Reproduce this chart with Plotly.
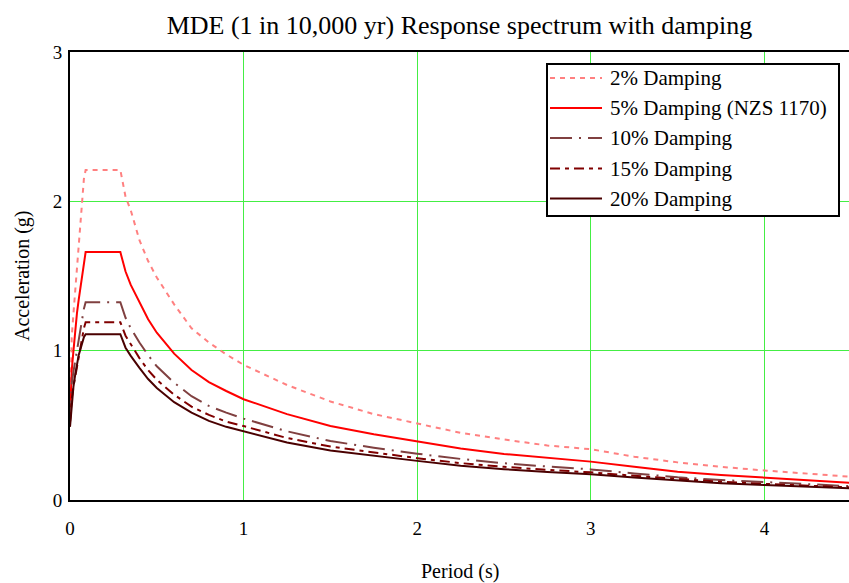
import plotly.graph_objects as go

# ---- data ----
period = [0, 0.01, 0.02, 0.03, 0.04, 0.05, 0.06, 0.07, 0.08, 0.09,
          0.29, 0.32, 0.35, 0.4, 0.45, 0.5, 0.6, 0.7, 0.8, 0.9, 1.0,
          1.25, 1.5, 1.75, 2.0, 2.25, 2.5, 2.75, 3.0, 3.25, 3.5, 3.75,
          4.0, 4.25, 4.5]

damp_2 = [0.52, 1.09, 1.25, 1.40, 1.55, 1.70, 1.90, 2.03, 2.15, 2.21,
          2.21, 2.03, 1.94, 1.74, 1.60, 1.49, 1.31, 1.15, 1.055, 0.975, 0.905,
          0.77, 0.66, 0.575, 0.51, 0.45, 0.405, 0.365, 0.34, 0.29, 0.252, 0.222,
          0.198, 0.175, 0.155]
damp_5 = [0.55, 0.87, 1.00, 1.14, 1.25, 1.34, 1.42, 1.50, 1.58, 1.66,
          1.66, 1.53, 1.44, 1.32, 1.21, 1.12, 0.98, 0.87, 0.79, 0.73, 0.675,
          0.575, 0.495, 0.44, 0.39, 0.345, 0.308, 0.28, 0.257, 0.223, 0.19, 0.168,
          0.15, 0.132, 0.115]
damp_10 = [0.52, 0.78, 0.86, 0.93, 1.00, 1.08, 1.15, 1.22, 1.28, 1.325,
           1.325, 1.22, 1.15, 1.055, 0.97, 0.895, 0.785, 0.695, 0.63, 0.585, 0.545,
           0.46, 0.395, 0.35, 0.31, 0.275, 0.246, 0.224, 0.205, 0.178, 0.152, 0.134,
           0.12, 0.105, 0.092]
damp_15 = [0.52, 0.68, 0.76, 0.83, 0.90, 0.97, 1.03, 1.09, 1.15, 1.19,
           1.19, 1.10, 1.04, 0.95, 0.87, 0.805, 0.705, 0.625, 0.57, 0.525, 0.495,
           0.415, 0.358, 0.318, 0.28, 0.247, 0.222, 0.202, 0.185, 0.162, 0.14, 0.122,
           0.108, 0.095, 0.084]
damp_20 = [0.49, 0.64, 0.76, 0.84, 0.92, 0.97, 1.01, 1.05, 1.09, 1.11,
           1.11, 1.02, 0.965, 0.885, 0.81, 0.75, 0.655, 0.585, 0.53, 0.49, 0.46,
           0.385, 0.332, 0.295, 0.262, 0.23, 0.206, 0.188, 0.172, 0.15, 0.13, 0.113,
           0.1, 0.088, 0.078]

series_names = ["2% Damping", "5% Damping (NZS 1170)", "10% Damping",
                "15% Damping", "20% Damping"]
series_values = [damp_2, damp_5, damp_10, damp_15, damp_20]
series_colors = ["#ff8080", "#ff0000", "#804040", "#800000", "#4a0000"]
series_dash = ["5px,5px", "solid", "22px,7px,2px,7px", "10px,5px,4px,5px", "solid"]

x_ticks = [0, 1, 2, 3, 4]
y_ticks = [0, 1, 2, 3]

FONT = "Times New Roman, Liberation Serif, DejaVu Serif, serif"
W, H = 849, 583
ML, MR, MT, MB = 70, 0, 52, 83
PW, PH = W - ML - MR, H - MT - MB


def px2x(px):
    return (px - ML) / PW


def px2y(py):
    return (H - MB - py) / PH


fig = go.Figure()
for name, vals, col, dash in zip(series_names, series_values, series_colors, series_dash):
    fig.add_trace(go.Scatter(x=period, y=vals, mode="lines", name=name,
                             line=dict(color=col, width=2, dash=dash),
                             showlegend=False))

# manual legend (box, samples, labels)
shapes = [dict(type="rect", xref="paper", yref="paper",
               x0=px2x(547), x1=px2x(839), y0=px2y(216), y1=px2y(64),
               line=dict(color="black", width=2), fillcolor="white", layer="above")]
annotations = []
leg_y = [78, 108, 138, 168.5, 198.5]
for i, (name, col, dash) in enumerate(zip(series_names, series_colors, series_dash)):
    yp = px2y(leg_y[i])
    shapes.append(dict(type="line", xref="paper", yref="paper",
                       x0=px2x(550), x1=px2x(602), y0=yp, y1=yp,
                       line=dict(color=col, width=2, dash=dash), layer="above"))
    annotations.append(dict(text=name, xref="paper", yref="paper",
                            x=px2x(608), y=yp, xanchor="left", yanchor="middle",
                            showarrow=False, font=dict(family=FONT, size=21, color="black")))

annotations.append(dict(text="Period (s)", xref="paper", yref="paper",
                        x=0.5, y=px2y(571), xanchor="center", yanchor="middle",
                        showarrow=False, font=dict(family=FONT, size=20, color="black")))
annotations.append(dict(text="Acceleration (g)", xref="paper", yref="paper",
                        x=px2x(22), y=0.5, xanchor="center", yanchor="middle",
                        textangle=-90, showarrow=False,
                        font=dict(family=FONT, size=20, color="black")))

fig.update_layout(
    width=W, height=H,
    margin=dict(l=ML, r=MR, t=MT, b=MB),
    paper_bgcolor="white", plot_bgcolor="white",
    font=dict(family=FONT, size=19, color="black"),
    title=dict(text="MDE (1 in 10,000 yr) Response spectrum with damping",
               x=0.5, xref="paper", xanchor="center",
               y=1 - 25 / H, yref="container", yanchor="middle",
               font=dict(family=FONT, size=26, color="black")),
    shapes=shapes, annotations=annotations,
    showlegend=False,
)
fig.update_xaxes(range=[0, PW / 173.6], tickvals=x_ticks, ticktext=[str(v) for v in x_ticks],
                 showgrid=True, gridcolor="#44ee44", gridwidth=1, zeroline=False,
                 showline=True, linecolor="black", linewidth=2, mirror=True,
                 ticks="", ticklabelstandoff=10, tickfont=dict(family=FONT, size=19))
fig.update_yaxes(range=[0, 3], tickvals=y_ticks, ticktext=[str(v) for v in y_ticks],
                 showgrid=True, gridcolor="#44ee44", gridwidth=1, zeroline=False,
                 showline=True, linecolor="black", linewidth=2, mirror=False,
                 ticks="", ticklabelstandoff=2, tickfont=dict(family=FONT, size=19))

fig.write_html("out.html")
